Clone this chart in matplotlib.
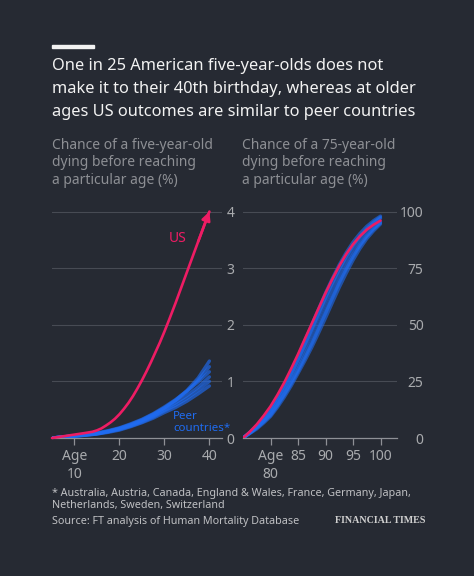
import numpy as np
import matplotlib
matplotlib.use('Agg')
import matplotlib.pyplot as plt

# left panel: chance of a five-year-old dying before a given age (%)
us_young_ages = [5, 7.5, 10, 12.5, 14, 15, 16, 17, 18, 19, 20, 21, 22, 23, 24, 25, 26, 27, 28,
                 29, 30, 31, 32.5, 35, 37.5, 40]
us_young = [0, 0.03, 0.06, 0.09, 0.11, 0.135, 0.17, 0.22, 0.275, 0.34, 0.42, 0.515, 0.62, 0.74,
            0.875, 1.02, 1.175, 1.34, 1.515, 1.69, 1.88, 2.08, 2.39, 2.93, 3.47, 4.0]
young_ages = [5, 7.5, 10, 12.5, 15, 17.5, 20, 22.5, 25, 27.5, 30, 32.5, 35, 37.5, 40]
peers_young = [
    [0, 0.02, 0.04, 0.06, 0.08, 0.12, 0.17, 0.24, 0.32, 0.42, 0.53, 0.67, 0.84, 1.06, 1.36],
    [0, 0.02, 0.04, 0.06, 0.08, 0.12, 0.17, 0.23, 0.31, 0.41, 0.53, 0.66, 0.82, 1.02, 1.26],
    [0, 0.02, 0.04, 0.06, 0.09, 0.13, 0.18, 0.25, 0.33, 0.43, 0.55, 0.68, 0.83, 0.99, 1.17],
    [0, 0.02, 0.04, 0.05, 0.08, 0.11, 0.16, 0.22, 0.30, 0.39, 0.50, 0.62, 0.75, 0.90, 1.08],
    [0, 0.02, 0.03, 0.05, 0.07, 0.11, 0.15, 0.21, 0.28, 0.37, 0.48, 0.58, 0.70, 0.84, 1.00],
    [0, 0.02, 0.03, 0.05, 0.07, 0.10, 0.14, 0.20, 0.27, 0.35, 0.45, 0.54, 0.65, 0.78, 0.92],
]

# right panel: chance of a 75-year-old dying before a given age (%)
old_ages = [75, 76.25, 77.5, 78.75, 80, 81.25, 82.5, 83.75, 85, 86.25, 87.5, 88.75, 90,
            91.25, 92.5, 93.75, 95, 96.25, 97.5, 98.75, 100]
us_old = [0, 2.8, 6, 9.8, 14, 19, 24.5, 30.6, 37, 43.8, 50.5, 57.3, 64, 70.2, 76, 81.1, 85.5,
          89.1, 92, 94.2, 96]
peers_old = [
    [0, 2.6, 5.5, 9, 13, 18, 23.5, 29.6, 36, 43, 50, 57, 64, 70.5, 76.5, 81.8, 86.5, 90.3, 93.5, 96, 98],
    [0, 2.4, 5, 8.1, 11.5, 16, 21, 26.8, 33, 39.7, 46.5, 53.3, 60, 66.4, 72.5, 78.2, 83.5, 87.8, 91.5, 94.5, 97],
    [0, 2.2, 4.5, 7.3, 10.5, 14.7, 19.5, 24.8, 30.5, 36.7, 43, 49.7, 56.5, 63.1, 69.5, 75.4, 81, 85.6, 89.5, 92.7, 95.5],
    [0, 2, 4, 6.6, 9.5, 13.5, 18, 23, 28.5, 34.1, 40, 46.4, 53, 59.8, 66.5, 72.7, 78.5, 83.6, 88, 91.5, 94.5],
    [0, 2.2, 4.5, 7.1, 10, 14.3, 19, 24, 29.5, 35.4, 41.5, 48.2, 55, 61.8, 68.5, 74.5, 80, 84.9, 89, 92.3, 95],
    [0, 2.4, 5, 8.3, 12, 16.8, 22, 28, 34.5, 41.2, 48, 55, 62, 68.4, 74.5, 80.1, 85, 89, 92.5, 95.3, 97.5],
]

young_ticks = [10, 20, 30, 40]
young_ticklabels = ['Age\n10', '20', '30', '40']
old_ticks = [80, 85, 90, 95, 100]
old_ticklabels = ['Age\n80', '85', '90', '95', '100']
young_yticks = [0, 1, 2, 3, 4]
old_yticks = [0, 25, 50, 75, 100]

bg = '#262a33'
pink = '#ee1c64'
blue = '#1f6cf2'
grid_c = '#474b54'
tick_c = '#a9abae'
W, H = 474, 576

plt.rcParams['font.family'] = ['Noto Sans', 'DejaVu Sans']

fig = plt.figure(figsize=(W / 100, H / 100), dpi=100, facecolor=bg)

def px_axes(x0, x1, y_top, y_bot):
    return fig.add_axes([x0 / W, 1 - y_bot / H, (x1 - x0) / W, (y_bot - y_top) / H])

ax1 = px_axes(52, 222, 205.9, 438)
ax2 = px_axes(243, 397, 205.9, 438)

for ax, ymax, pad in [(ax1, 4.1, 9), (ax2, 102.5, 19)]:
    ax.set_facecolor(bg)
    ax.set_ylim(0, ymax)
    for s in ['top', 'left', 'right']:
        ax.spines[s].set_visible(False)
    ax.spines['bottom'].set_color('#8e9096')
    ax.spines['bottom'].set_linewidth(0.9)
    ax.yaxis.tick_right()
    ax.tick_params(axis='y', length=0, pad=pad, labelsize=10, labelcolor=tick_c)
    ax.tick_params(axis='x', length=5, width=0.9, color='#8e9096', pad=3,
                   labelsize=10, labelcolor=tick_c)
    ax.grid(axis='y', color=grid_c, linewidth=0.8)
    ax.set_axisbelow(True)

ax1.set_xlim(5, 42.8)
ax1.set_xticks(young_ticks)
ax1.set_xticklabels(young_ticklabels, va='top')
ax1.set_yticks(young_yticks)
ax1.set_yticklabels([str(v) for v in young_yticks], ha='right')

ax2.set_xlim(75, 103)
ax2.set_xticks(old_ticks)
ax2.set_xticklabels(old_ticklabels, va='top')
ax2.set_yticks(old_yticks)
ax2.set_yticklabels([str(v) for v in old_yticks], ha='right')

for ax in (ax1, ax2):
    for lab in ax.get_xticklabels():
        if lab.get_text().startswith('Age'):
            lab.set_linespacing(1.3)

for p in peers_young:
    ax1.plot(young_ages, p, color=blue, lw=2.4, alpha=0.65, solid_capstyle='round', zorder=3)
ax1.plot(us_young_ages, us_young, color=pink, lw=1.9, solid_capstyle='round',
         solid_joinstyle='round', zorder=4, clip_on=False)
ax1.annotate('', xy=(us_young_ages[-1], us_young[-1]), xytext=(us_young_ages[-2], us_young[-2]),
             arrowprops=dict(arrowstyle='-|>,head_length=0.5,head_width=0.25', color=pink, lw=1.9,
                             shrinkA=0, shrinkB=0),
             zorder=5, annotation_clip=False)
ax1.text(31.0, 3.52, 'US', color=pink, fontsize=10, ha='left', va='center')
ax1.text(31.9, 0.28, 'Peer\ncountries*', color=blue, fontsize=8.3, ha='left', va='center',
         linespacing=1.1)

for p in peers_old:
    ax2.plot(old_ages, p, color=blue, lw=2.4, alpha=0.6, solid_capstyle='round', zorder=3)
ax2.plot(old_ages, us_old, color=pink, lw=1.9, solid_capstyle='round', zorder=4)

# header
fig.patches.append(plt.Rectangle((52 / W, 1 - 47.5 / H), 42 / W, 2.5 / H,
                                 transform=fig.transFigure, color='#f2f2f2'))
title = ('One in 25 American five-year-olds does not\n'
         'make it to their 40th birthday, whereas at older\n'
         'ages US outcomes are similar to peer countries')
fig.text(52 / W, 1 - 58 / H, title, color='#f2f2f2', fontsize=11.8, ha='left', va='top',
         linespacing=1.6)
sub_c = '#8d8f94'
fig.text(52 / W, 1 - 138 / H, 'Chance of a five-year-old\ndying before reaching\na particular age (%)',
         color=sub_c, fontsize=10, ha='left', va='top', linespacing=1.22)
fig.text(242.5 / W, 1 - 138 / H, 'Chance of a 75-year-old\ndying before reaching\na particular age (%)',
         color=sub_c, fontsize=10, ha='left', va='top', linespacing=1.22)

# footer
foot_c = '#bfc0c3'
fig.text(52 / W, 1 - 488 / H, '* Australia, Austria, Canada, England & Wales, France, Germany, Japan,\n'
         'Netherlands, Sweden, Switzerland', color=foot_c, fontsize=7.75, ha='left', va='top',
         linespacing=1.12)
fig.text(52 / W, 1 - 516 / H, 'Source: FT analysis of Human Mortality Database', color=foot_c,
         fontsize=7.75, ha='left', va='top')
fig.text(335 / W, 1 - 516 / H, 'FINANCIAL TIMES', color='#d0d0d0', fontsize=7.2,
         family='Liberation Serif', weight='bold', ha='left', va='top')

fig.savefig('out.png', dpi=100, facecolor=bg)
